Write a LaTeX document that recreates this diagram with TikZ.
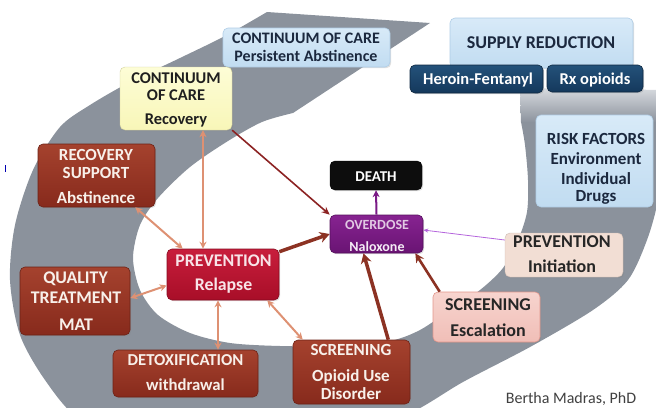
\documentclass[tikz,border=0pt]{standalone}
\usepackage{fontspec}
\setmainfont{Carlito}
\usetikzlibrary{arrows.meta,shadows}

\definecolor{bandgray}{RGB}{139,146,156}
\definecolor{bandlight}{RGB}{215,218,223}
\definecolor{lbtop}{RGB}{216,234,248}
\definecolor{lbbot}{RGB}{193,220,241}
\definecolor{lbedge}{RGB}{175,205,230}
\definecolor{navytop}{RGB}{36,82,122}
\definecolor{navybot}{RGB}{20,56,92}
\definecolor{navytxt}{RGB}{27,40,62}
\definecolor{browntop}{RGB}{165,66,46}
\definecolor{brownbot}{RGB}{135,42,28}
\definecolor{crimtop}{RGB}{200,30,60}
\definecolor{crimbot}{RGB}{168,14,40}
\definecolor{purptop}{RGB}{135,35,145}
\definecolor{purpbot}{RGB}{105,20,115}
\definecolor{yeltop}{RGB}{253,253,214}
\definecolor{yelbot}{RGB}{248,246,184}
\definecolor{peach}{RGB}{242,222,212}
\definecolor{pinktop}{RGB}{247,212,206}
\definecolor{pinkbot}{RGB}{240,190,183}
\definecolor{pinkedge}{RGB}{226,150,140}
\definecolor{salmon}{RGB}{222,145,115}
\definecolor{brownarrow}{RGB}{140,50,35}
\definecolor{darkred}{RGB}{140,35,35}
\definecolor{purparrow}{RGB}{122,26,134}
\definecolor{violet}{RGB}{180,100,220}
\definecolor{lighttxt}{RGB}{248,240,234}

\begin{document}
\begin{tikzpicture}[x=1pt,y=-1pt,
  box/.style={rounded corners=5pt, inner sep=0pt,
    drop shadow={shadow xshift=1.2pt, shadow yshift=-1.2pt, opacity=0.25}},
  bluebox/.style={box, top color=lbtop, bottom color=lbbot, draw=lbedge, line width=0.6pt},
  navybox/.style={box, top color=navytop, bottom color=navybot, draw=navybot!70!black, line width=0.6pt},
  brownbox/.style={box, top color=browntop, bottom color=brownbot, draw=brownbot!80!black, line width=0.6pt},
  crimbox/.style={box, top color=crimtop, bottom color=crimbot, draw=crimbot!80!black, line width=0.6pt},
  purpbox/.style={box, top color=purptop, bottom color=purpbot, draw=purpbot!80!black, line width=0.6pt},
  blackbox/.style={box, fill=black!95, draw=black},
  yelbox/.style={box, top color=yeltop, bottom color=yelbot, draw=yelbot!85!black, line width=0.4pt},
  peachbox/.style={box, fill=peach, draw=peach!85!black, line width=0.4pt},
  pinkbox/.style={box, top color=pinktop, bottom color=pinkbot, draw=pinkedge, line width=0.6pt},
  txt/.style={font=\bfseries\fontsize{17}{19}\selectfont, anchor=base, inner sep=0pt},
  fs/.style={font=\bfseries\fontsize{#1}{#1}\selectfont},
  dbl/.style={draw=salmon, line width=2pt,
    {Stealth[length=7pt,width=7pt]}-{Stealth[length=7pt,width=7pt]}},
  thick brown/.style={draw=brownarrow, line width=3.5pt, -{Stealth[length=10pt,width=11pt]}},
]
\useasboundingbox (0,0) rectangle (656,407);
\clip (0,0) rectangle (656,407);

% spiral band (main part)
\fill[bandgray] (430,23) -- (267,12)
  -- plot[smooth, tension=0.5] coordinates {(267,12) (225,36) (180,58) (130,82) (90,105) (60,127) (33,170) (15,225) (10,280) (20,335) (45,380) (80,420) (150,455)}
  -- plot[smooth, tension=0.5] coordinates {(150,455) (300,470) (413,412) (463,382) (530,347) (593,310) (628,280) (647,240) (658,200) (663,150) (664,122)}
  -- (521,122)
  -- plot[smooth, tension=0.5] coordinates {(521,122) (525,145) (528,180) (527,212) (518,240) (503,268) (480,290) (450,310) (420,330) (390,341) (340,346) (280,346) (230,343) (190,333) (158,315) (140,290) (133,258) (140,225) (158,198) (190,167) (228,141) (262,122) (293,113)}
  -- cycle;
% fading tail of the band
\shade[top color=bandlight, bottom color=bandgray] (664,122.5) -- (664,90) -- (520,88) -- (521,122.5) -- cycle;

% small mark
\draw[blue!70!black, line width=0.9pt] (5,165) -- (5,172);

% boxes
\node[bluebox, minimum width=167pt, minimum height=39pt] (pers) at (306.5,47.5) {};
\node[bluebox, minimum width=183pt, minimum height=50pt] (supply) at (541.5,43) {};
\node[navybox, minimum width=133pt, minimum height=28pt] (heroin) at (476.5,79) {};
\node[navybox, minimum width=96pt, minimum height=27pt] (rx) at (595,78.5) {};
\node[bluebox, minimum width=117pt, minimum height=92pt] (risk) at (594.5,161) {};
\node[blackbox, minimum width=92pt, minimum height=29pt] (death) at (376,175.5) {};
\node[purpbox, minimum width=93pt, minimum height=38pt] (od) at (376.5,234) {};
\node[peachbox, minimum width=118pt, minimum height=44pt] (previnit) at (564,255) {};
\node[pinkbox, minimum width=107pt, minimum height=50pt] (screenesc) at (486.5,317) {};
\node[brownbox, minimum width=117pt, minimum height=64pt] (screenoud) at (351.5,372) {};
\node[brownbox, minimum width=145pt, minimum height=47pt] (detox) at (185.5,373.5) {};
\node[brownbox, minimum width=110pt, minimum height=68pt] (quality) at (75,301) {};
\node[crimbox, minimum width=112pt, minimum height=51pt] (prevrel) at (223,274.5) {};
\node[brownbox, minimum width=117pt, minimum height=63pt] (recsup) at (96.5,175.5) {};
\node[yelbox, minimum width=112pt, minimum height=63pt] (recovery) at (176,98.5) {};

% texts
\node[txt, fs=16, text=navytxt] (persA) at (306,43) {CONTINUUM OF CARE};
\node[txt, fs=16, text=navytxt] (persB) at (306,61) {Persistent Abstinence};
\node[txt, fs=18, text=navytxt] (supplyA) at (541,48) {SUPPLY REDUCTION};
\node[txt, fs=16.5, text=white] (heroinA) at (478,84) {Heroin-Fentanyl};
\node[txt, fs=16.5, text=white] (rxA) at (595,84) {Rx opioids};
\node[txt, text=navytxt] (riskA) at (596,144) {RISK FACTORS};
\node[txt, text=navytxt] (riskB) at (596,164) {Environment};
\node[txt, text=navytxt] (riskC) at (596,184) {Individual};
\node[txt, text=navytxt] (riskD) at (596,201) {Drugs};
\node[txt, fs=15, text=white] (deathA) at (376,181) {DEATH};
\node[txt, fs=14, text=purptop!25!white] (odA) at (377,229) {OVERDOSE};
\node[txt, fs=14, text=purptop!8!white] (odB) at (377,251) {Naloxone};
\node[txt, fs=18, text=black!85] (previnitA) at (562,247) {PREVENTION};
\node[txt, fs=18, text=black!85] (previnitB) at (562,272) {Initiation};
\node[txt, fs=18, text=black!85] (screenescA) at (488,310) {SCREENING};
\node[txt, fs=18, text=black!85] (screenescB) at (488,336) {Escalation};
\node[txt, text=lighttxt] (screenoudA) at (351,355) {SCREENING};
\node[txt, text=lighttxt] (screenoudB) at (351,381) {Opioid Use};
\node[txt, text=lighttxt] (screenoudC) at (351,399) {Disorder};
\node[txt, fs=16.7, text=lighttxt] (detoxA) at (185.5,365) {DETOXIFICATION};
\node[txt, fs=16.7, text=lighttxt] (detoxB) at (185.5,390) {withdrawal};
\node[txt, fs=17.8, text=lighttxt] (qualityA) at (75.5,283) {QUALITY};
\node[txt, fs=17.8, text=lighttxt] (qualityB) at (76,303) {TREATMENT};
\node[txt, fs=17.8, text=lighttxt] (qualityC) at (76,330) {MAT};
\node[txt, fs=17.8, text=crimtop!12!white] (prevrelA) at (223.5,266) {PREVENTION};
\node[txt, fs=17.8, text=crimtop!12!white] (prevrelB) at (223.5,290) {Relapse};
\node[txt, text=lighttxt] (recsupA) at (96,160) {RECOVERY};
\node[txt, text=lighttxt] (recsupB) at (96,178) {SUPPORT};
\node[txt, text=lighttxt] (recsupC) at (96,203) {Abstinence};
\node[txt, fs=16.4, text=black!88] (recoveryA) at (176,83) {CONTINUUM};
\node[txt, fs=16.4, text=black!88] (recoveryB) at (176,100) {OF CARE};
\node[txt, fs=16.4, text=black!88] (recoveryC) at (176,124) {Recovery};
\node[anchor=base, inner sep=0pt, text=black!75, font=\fontsize{16}{18}\selectfont] (credit) at (571,403) {Bertha Madras, PhD};

% connectors
\draw[dbl] ([xshift=27pt]recovery.south) -- ([xshift=-20pt]prevrel.north);
\draw[dbl] ([xshift=-20pt]recsup.south east) -- ([xshift=16pt]prevrel.north west);
\draw[dbl] ([yshift=3pt]quality.east) -- ([yshift=-11pt]prevrel.west);
\draw[dbl] ([xshift=-5pt]prevrel.south) -- ([xshift=32.5pt]detox.north);
\draw[dbl] ([xshift=-12pt]prevrel.south east) -- ([xshift=10pt]screenoud.north west);
\draw[thick brown] ([yshift=-3pt]prevrel.north east) -- (od.west);
\draw[darkred, line width=1.6pt, -{Stealth[length=8pt,width=7pt]}] (recovery.south east) -- (od.north west);
\draw[purparrow, line width=2pt, -{Stealth[length=7pt,width=7pt]}] (od.north) -- (death.south);
\draw[violet, line width=0.8pt, -{Stealth[length=5pt,width=4pt]}] ([yshift=15pt]previnit.west) -- ([yshift=4pt]od.east);
\draw[brownarrow, line width=2.6pt, -{Stealth[length=9pt,width=9pt]}] ([xshift=7pt]screenesc.north west) -- ([xshift=-8pt]od.south east);
\draw[thick brown] ([xshift=-22pt]screenoud.north east) -- ([xshift=-13pt]od.south);
\end{tikzpicture}
\end{document}
